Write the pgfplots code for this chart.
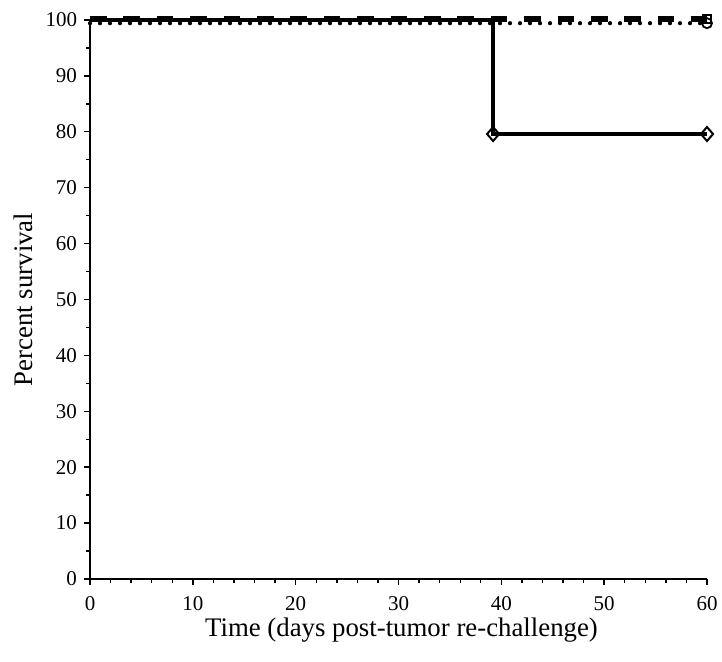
\documentclass[border=0pt]{standalone}
\usepackage{fontspec}
\setmainfont{Liberation Serif}
\usepackage{pgfplots}
\pgfplotsset{compat=1.18}

\begin{document}
\begin{tikzpicture}
\begin{axis}[
    scale only axis,
    width=308.5pt,
    height=279.5pt,
    xmin=0, xmax=60,
    ymin=0, ymax=100,
    axis lines=left,
    axis line style={-, line width=0.9pt},
    xtick={0,10,...,60},
    ytick={0,10,...,100},
    minor x tick num=4,
    minor y tick num=1,
    tick align=outside,
    major tick length=2.8pt,
    minor tick length=2pt,
    tick style={black, line width=0.7pt},
    ticklabel style={font=\fontsize{10.5}{12}\selectfont, inner sep=0pt},
    xticklabel style={anchor=north, yshift=-6pt},
    yticklabel style={anchor=east, xshift=-3.5pt},
    /pgf/number format/assume math mode=true,
    xlabel={Time (days post-tumor re-challenge)},
    ylabel={Percent survival},
    every axis x label/.style={at={([shift={(1.5pt,-29pt)}]axis description cs:0.5,0)},
        anchor=base, font=\fontsize{13.4}{15}\selectfont, inner sep=0pt},
    every axis y label/.style={at={([xshift=-28.5pt]axis description cs:0,0.5)},
        anchor=base, rotate=90, font=\fontsize{13.4}{15}\selectfont, inner sep=0pt},
    clip=false,
]
% dotted group
\addplot[black, line width=2.1pt, dash pattern=on 0pt off 5pt, line cap=round, yshift=-1.6pt,
    mark=o, mark size=2.5pt, mark options={solid, fill=white, line width=0.9pt}, mark indices={2}]
    coordinates {(0,100) (60,100)};
% dashed group
\addplot[black, line width=3pt, dash pattern=on 8.3pt off 8.4pt, yshift=0.6pt,
    mark=square, mark size=2pt, mark options={solid, fill=white, line width=0.9pt}, mark indices={2}]
    coordinates {(0,100) (60,100)};
% solid group
\addplot[black, line width=2pt, const plot,
    mark=diamond, mark size=3.5pt, mark options={fill=white, line width=1pt, xscale=1.15}, mark indices={2,3}]
    coordinates {(0,100) (39.2,79.6) (60,79.6)};
% page frame
\path ([shift={(-45pt,-41.5pt)}]axis description cs:0,0) rectangle ([shift={(7.5pt,10pt)}]axis description cs:1,1);
\end{axis}
\end{tikzpicture}
\end{document}
